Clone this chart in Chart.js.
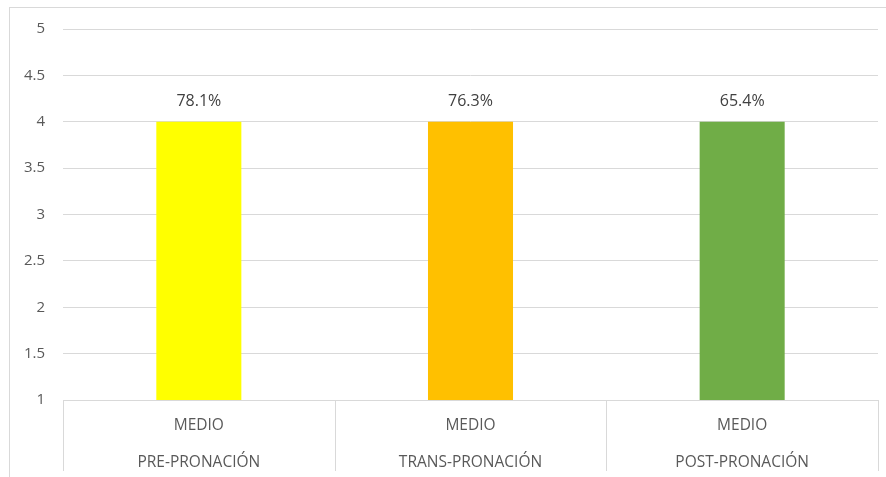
<!DOCTYPE html>
<html>
<head>
<meta charset="utf-8">
<script src="https://cdn.jsdelivr.net/npm/chart.js@4.4.1/dist/chart.umd.min.js"></script>
<style>
  html, body { margin: 0; padding: 0; background: #fff; }
  #frame { position: absolute; left: 9px; top: 7px; width: 900px; height: 500px; border: 1px solid #d9d9d9; }
  #wrap { position: absolute; left: 0; top: 0; width: 886px; height: 477px; }
</style>
</head>
<body>
<div id="frame"></div>
<div id="wrap"><canvas id="myChart" width="886" height="477"></canvas></div>
<script>
// chart data
const levels = ['MEDIO', 'MEDIO', 'MEDIO'];
const phases = ['PRE-PRONACIÓN', 'TRANS-PRONACIÓN', 'POST-PRONACIÓN'];
const values = [4, 4, 4];
const pctLabels = ['78.1%', '76.3%', '65.4%'];
const barColors = ['#FFFF00', '#FFC000', '#70AD47'];
const yTickLabels = ['1', '1.5', '2', '2.5', '3', '3.5', '4', '4.5', '5'];

const FONT = "'Open Sans', sans-serif";

// vertical separators under the x axis and value labels above bars
const extrasPlugin = {
    id: 'extras',
    afterDraw(chart) {
        const ctx = chart.ctx;
        const x = chart.scales.x;
        const area = chart.chartArea;
        const step = (x.getPixelForValue(1) - x.getPixelForValue(0));
        ctx.save();
        ctx.strokeStyle = '#d9d9d9';
        ctx.lineWidth = 1;
        for (let i = 0; i <= levels.length; i++) {
            const px = Math.round(x.getPixelForValue(0) - step / 2 + i * step) + 0.5;
            ctx.beginPath();
            ctx.moveTo(px, area.bottom);
            ctx.lineTo(px, area.bottom + 71);
            ctx.stroke();
        }
        ctx.fillStyle = '#404040';
        ctx.font = '16px ' + FONT;
        ctx.textAlign = 'center';
        ctx.textBaseline = 'middle';
        chart.getDatasetMeta(0).data.forEach((bar, i) => {
            ctx.fillText(pctLabels[i], bar.x, bar.y - 20);
        });
        ctx.restore();
    }
};

const ctx = document.getElementById('myChart').getContext('2d');
const myChart = new Chart(ctx, {
    type: 'bar',
    data: {
        labels: levels.map((l, i) => [l, phases[i]]),
        datasets: [{
            data: values,
            backgroundColor: barColors,
            borderWidth: 0,
            categoryPercentage: 1,
            barPercentage: 0.313
        }]
    },
    options: {
        responsive: false,
        animation: false,
        layout: { padding: { top: 29, right: 8, left: 0, bottom: 0 } },
        plugins: {
            legend: { display: false },
            tooltip: { enabled: false }
        },
        scales: {
            x: {
                grid: { display: false },
                border: { display: true, color: '#d9d9d9' },
                ticks: {
                    color: '#595959',
                    font: { family: FONT, size: 15.5, lineHeight: 37 / 15.5 },
                    padding: -1,
                    maxRotation: 0
                },
                afterFit(scale) { scale.height = 77; }
            },
            y: {
                min: 1,
                max: 5,
                grid: { color: '#d9d9d9', drawTicks: false },
                border: { display: false },
                ticks: {
                    stepSize: 0.5,
                    color: '#595959',
                    font: { family: FONT, size: 15 },
                    padding: 18,
                    callback: (v, i) => yTickLabels[i]
                },
                afterFit(scale) { scale.width = 63; }
            }
        }
    },
    plugins: [extrasPlugin]
});
</script>
</body>
</html>
